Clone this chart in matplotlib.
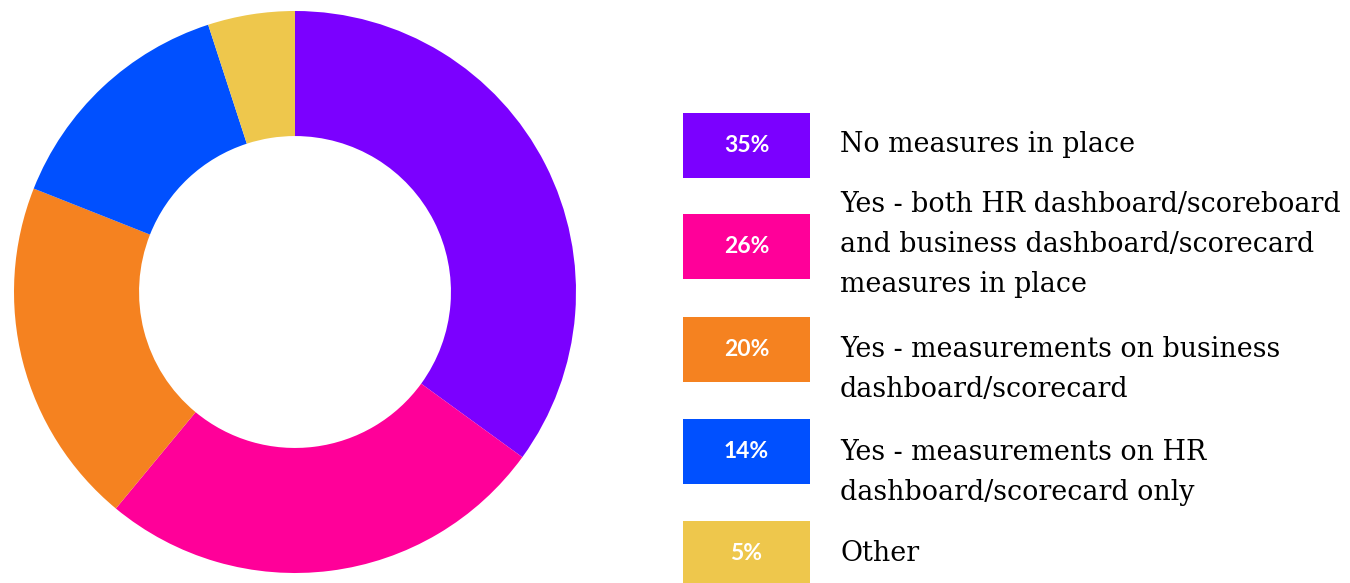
import matplotlib
matplotlib.use("Agg")
import matplotlib.pyplot as plt
from matplotlib.patches import Rectangle

# Survey responses: share of organisations by type of measurement in place
categories = [
    "No measures in place",
    "Yes - both HR dashboard/scoreboard\nand business dashboard/scorecard\nmeasures in place",
    "Yes - measurements on business\ndashboard/scorecard",
    "Yes - measurements on HR\ndashboard/scorecard only",
    "Other",
]
shares = [35, 26, 20, 14, 5]
colors = ["#7B00FF", "#FF0099", "#F58220", "#0050FF", "#EEC74C"]

W, H = 1350, 583
fig = plt.figure(figsize=(W / 100, H / 100), dpi=100)
ax = fig.add_axes([0, 0, 1, 1])

def py(y):
    # convert a top-down pixel row to the axes' bottom-up y
    return H - y

# Donut, starting at 12 o'clock and running clockwise
cx, cy, r_out = 295, 292, 281
ax.pie(shares, colors=colors, startangle=90, counterclock=False,
       center=(cx, py(cy)), radius=r_out, frame=True,
       wedgeprops=dict(width=r_out * 0.445, linewidth=0))
ax.set_xlim(0, W)
ax.set_ylim(0, H)
ax.set_aspect("equal")
ax.axis("off")

# Legend: coloured key boxes with the percentage, descriptive text beside
box_x, box_w, box_h = 683, 127, 65
box_tops = [113, 214, 317, 419, 521]
first_baselines = [152, 212, 357, 460, 561]
line_step = 40
text_x = 840

for cat, val, col, top, base in zip(categories, shares, colors, box_tops, first_baselines):
    ax.add_patch(Rectangle((box_x, py(top + box_h)), box_w, box_h,
                           facecolor=col, edgecolor="none"))
    ax.text(box_x + box_w / 2, py(top + box_h / 2), f"{val}%",
            ha="center", va="center", color="white",
            fontsize=16.5, fontweight="bold", family=["Lato", "DejaVu Sans"])
    for i, line in enumerate(cat.split("\n")):
        ax.text(text_x, py(base + i * line_step), line,
                ha="left", va="baseline", color="#000000",
                fontsize=19.4, family=["DejaVu Serif"])

fig.savefig("out.png", dpi=100, facecolor="white")
